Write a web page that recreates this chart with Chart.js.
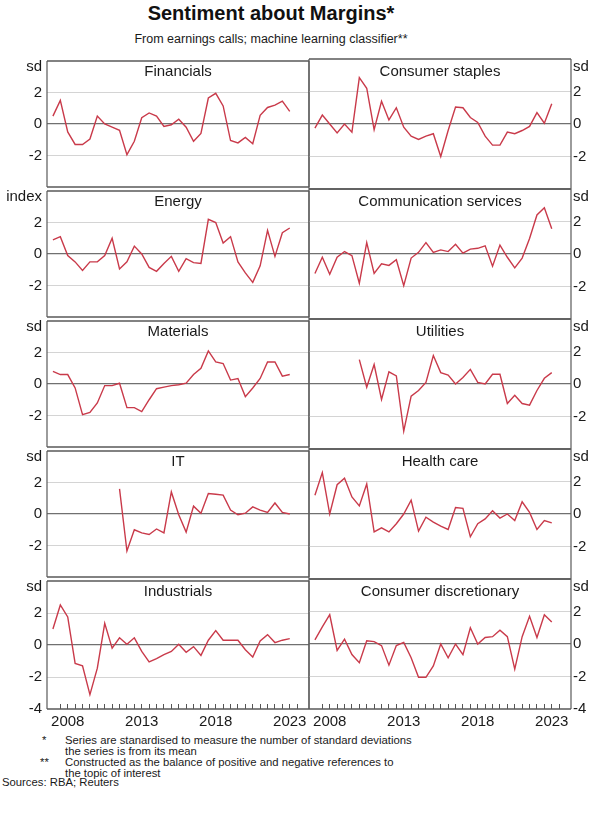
<!DOCTYPE html>
<html>
<head>
<meta charset="utf-8">
<script src="https://cdn.jsdelivr.net/npm/chart.js@4.4.0/dist/chart.umd.min.js"></script>
<style>
  body { margin: 0; background: #fff; font-family: "Liberation Sans", Arial, sans-serif; color: #1a1a1a; }
  #wrap { position: relative; width: 589px; height: 827px; overflow: hidden; background: #fff; }
  #wrap canvas { position: absolute; }
  .t { position: absolute; white-space: nowrap; }
  #title { left: 0; width: 542px; top: 2px; text-align: center; font-weight: bold; font-size: 20px; line-height: 22px; color: #111; }
  #subtitle { left: 0; width: 542px; top: 31px; text-align: center; font-size: 12.5px; line-height: 16px; }
  .ptitle { font-size: 15px; line-height: 18px; text-align: center; width: 262px; }
  .unit { font-size: 15px; line-height: 18px; }
  .note { font-size: 11.3px; line-height: 12px; }
</style>
</head>
<body>
<div id="wrap">
  <div class="t" id="title">Sentiment about Margins*</div>
  <div class="t" id="subtitle">From earnings calls; machine learning classifier**</div>

  <div class="t note" style="left:42px;top:734px">*</div>
  <div class="t note" style="left:65px;top:734px">Series are stanardised to measure the number of standard deviations</div>
  <div class="t note" style="left:65px;top:745px">the series is from its mean</div>
  <div class="t note" style="left:40px;top:756px">**</div>
  <div class="t note" style="left:65px;top:756px">Constructed as the balance of positive and negative references to</div>
  <div class="t note" style="left:65px;top:767px">the topic of interest</div>
  <div class="t note" style="left:2px;top:776px">Sources: RBA; Reuters</div>
</div>
<script>
// half-yearly observations
const periods = [2007, 2007.5, 2008, 2008.5, 2009, 2009.5, 2010, 2010.5, 2011, 2011.5,
  2012, 2012.5, 2013, 2013.5, 2014, 2014.5, 2015, 2015.5, 2016, 2016.5,
  2017, 2017.5, 2018, 2018.5, 2019, 2019.5, 2020, 2020.5, 2021, 2021.5,
  2022, 2022.5, 2023];

const financials = [0.5, 1.5, -0.5, -1.3, -1.3, -0.95, 0.5, 0, -0.2, -0.4,
  -1.95, -1.1, 0.4, 0.7, 0.5, -0.15, -0.05, 0.3, -0.2, -1.1,
  -0.6, 1.65, 1.95, 1.15, -1.05, -1.2, -0.85, -1.25, 0.55, 1.05,
  1.2, 1.45, 0.8];
const consumerStaples = [-0.25, 0.55, 0, -0.55, 0, -0.5, 2.85, 2.2, -0.35, 1.4,
  0.25, 1.0, -0.2, -0.75, -0.95, -0.75, -0.6, -2.0, -0.4, 1.05,
  1.0, 0.4, 0.1, -0.75, -1.3, -1.3, -0.5, -0.6, -0.4, -0.15,
  0.7, 0.05, 1.25];
const energy = [0.9, 1.1, -0.1, -0.5, -1.05, -0.5, -0.5, -0.1, 1.0, -0.95,
  -0.5, 0.5, 0, -0.85, -1.1, -0.6, -0.15, -1.1, -0.3, -0.55,
  -0.6, 2.2, 2.0, 0.7, 1.1, -0.5, -1.2, -1.8, -0.75, 1.5,
  -0.15, 1.35, 1.65];
const communication = [-1.2, -0.2, -1.25, -0.2, 0.15, -0.1, -1.8, 0.7, -1.2, -0.6,
  -0.7, -0.35, -1.95, -0.25, 0.1, 0.7, 0.1, 0.25, 0.15, 0.6,
  0.05, 0.3, 0.35, 0.5, -0.75, 0.55, -0.2, -0.85, -0.25, 0.95,
  2.4, 2.85, 1.55];
const materials = [0.8, 0.6, 0.6, -0.25, -1.95, -1.8, -1.2, -0.1, -0.1, 0.05,
  -1.5, -1.5, -1.75, -1.0, -0.3, -0.2, -0.1, -0.05, 0.05, 0.6,
  1.0, 2.1, 1.4, 1.3, 0.25, 0.35, -0.8, -0.25, 0.35, 1.4,
  1.4, 0.5, 0.6];
const utilities = [null, null, null, null, null, null, 1.5, -0.2, 1.2, -0.95,
  0.75, 0.5, -2.9, -0.75, -0.4, 0.1, 1.75, 0.7, 0.55, 0,
  0.4, 0.9, 0.1, 0, 0.6, 0.6, -1.2, -0.7, -1.2, -1.3,
  -0.4, 0.35, 0.7];
const infoTech = [null, null, null, null, null, null, null, null, null, 1.6,
  -2.35, -1.0, -1.2, -1.3, -0.95, -1.2, 1.4, -0.05, -1.15, 0.5,
  0.05, 1.3, 1.25, 1.2, 0.25, -0.05, 0.05, 0.45, 0.25, 0.1,
  0.7, 0.1, 0];
const healthCare = [1.15, 2.55, 0, 1.8, 2.2, 1.05, 0.5, 1.85, -1.1, -0.85,
  -1.1, -0.6, 0, 0.85, -1.05, -0.2, -0.5, -0.75, -0.95, 0.4,
  0.35, -1.4, -0.6, -0.3, 0.2, -0.25, 0, -0.4, 0.75, 0.1,
  -0.95, -0.4, -0.55];
const industrials = [1.0, 2.5, 1.75, -1.15, -1.3, -3.1, -1.45, 1.35, -0.2, 0.45,
  0.05, 0.45, -0.4, -1.05, -0.85, -0.6, -0.4, 0.05, -0.45, -0.1,
  -0.65, 0.3, 0.9, 0.3, 0.3, 0.3, -0.3, -0.75, 0.25, 0.65,
  0.15, 0.3, 0.4];
const consumerDisc = [0.25, 1.05, 1.8, -0.4, 0.3, -0.65, -1.15, 0.2, 0.15, -0.1,
  -1.3, -0.1, 0.1, -0.85, -2.05, -2.05, -1.35, 0, -0.85, 0,
  -0.65, 1.0, 0, 0.4, 0.45, 0.85, 0.45, -1.55, 0.45, 1.7,
  0.4, 1.8, 1.35];

const xTickLabels = [2008, 2013, 2018, 2023];
const yTicks = [-4, -2, 0, 2, 4];

const panels = [
  { name: 'Financials', data: financials, unit: 'sd' },
  { name: 'Consumer staples', data: consumerStaples, unit: 'sd' },
  { name: 'Energy', data: energy, unit: 'index' },
  { name: 'Communication services', data: communication, unit: 'sd' },
  { name: 'Materials', data: materials, unit: 'sd' },
  { name: 'Utilities', data: utilities, unit: 'sd' },
  { name: 'IT', data: infoTech, unit: 'sd' },
  { name: 'Health care', data: healthCare, unit: 'sd' },
  { name: 'Industrials', data: industrials, unit: 'sd' },
  { name: 'Consumer discretionary', data: consumerDisc, unit: 'sd' }
];

const RED = '#c93a4a';
const TOP0 = 59, PH = 130, X_MIN = 2006.6, X_MAX = 2024.3;
const wrap = document.getElementById('wrap');

// tick marks every half year along the bottom axis
const xTickMarks = [];
for (let v = 2007.5; v <= 2023.5; v += 0.5) xTickMarks.push(v);

Chart.defaults.font.family = '"Liberation Sans", Arial, sans-serif';
Chart.defaults.font.size = 15;
Chart.defaults.color = '#1a1a1a';

const frame = {
  id: 'frame',
  afterDraw(chart) {
    const { ctx, chartArea: a } = chart;
    ctx.save();
    ctx.strokeStyle = '#5a5a5a';
    ctx.lineWidth = 1.5;
    ctx.beginPath();
    ctx.moveTo(a.left, a.top); ctx.lineTo(a.right, a.top);
    ctx.moveTo(a.left, a.bottom); ctx.lineTo(a.right, a.bottom);
    ctx.stroke();
    ctx.lineWidth = 1.2;
    ctx.beginPath();
    ctx.moveTo(a.left, a.top); ctx.lineTo(a.left, a.bottom);
    ctx.moveTo(a.right, a.top); ctx.lineTo(a.right, a.bottom);
    ctx.stroke();
    ctx.restore();
  }
};

function addText(cls, txt, css) {
  const d = document.createElement('div');
  d.className = 't ' + cls;
  d.textContent = txt;
  Object.assign(d.style, css);
  wrap.appendChild(d);
}

panels.forEach((p, k) => {
  const col = k % 2, row = Math.floor(k / 2);
  const last = row === 4;
  const top = TOP0 + row * PH;
  const cv = document.createElement('canvas');
  cv.width = col === 0 ? 311 : 282;
  cv.height = 12 + PH + (last ? 30 : 12);
  cv.style.left = (col === 0 ? 0 : 307) + 'px';
  cv.style.top = (top - 12) + 'px';
  wrap.appendChild(cv);

  const pts = periods.map((x, i) => ({ x: x, y: p.data[i] })).filter(d => d.y !== null);

  new Chart(cv, {
    type: 'line',
    data: { datasets: [{ data: pts, borderColor: RED, borderWidth: 1.4, pointRadius: 0, tension: 0 }] },
    options: {
      responsive: false, animation: false, events: [],
      layout: { padding: { top: 12, bottom: last ? 0 : 12, left: col === 0 ? 0 : 2, right: col === 0 ? 2 : 0 } },
      plugins: { legend: { display: false }, tooltip: { enabled: false } },
      scales: {
        x: {
          type: 'linear', min: X_MIN, max: X_MAX, display: last,
          afterBuildTicks: s => { s.ticks = xTickMarks.map(v => ({ value: v })); },
          afterFit: s => { if (last) s.height = 30; },
          grid: { drawOnChartArea: false, drawTicks: true, tickLength: -5, tickColor: '#555', tickWidth: 1 },
          border: { display: false },
          ticks: { autoSkip: false, maxRotation: 0, padding: 9,
            callback: v => xTickLabels.includes(v) ? String(v) : '' }
        },
        y: {
          min: -4, max: 4, position: col === 0 ? 'left' : 'right',
          afterBuildTicks: s => { s.ticks = yTicks.map(v => ({ value: v })); },
          afterFit: s => { s.width = col === 0 ? 47 : 18; },
          border: { display: false },
          grid: {
            drawTicks: false,
            color: c => c.tick.value === 0 ? '#707070' : (Math.abs(c.tick.value) === 4 ? 'rgba(0,0,0,0)' : '#d4d4d4'),
            lineWidth: c => c.tick.value === 0 ? 1.3 : 1
          },
          ticks: { padding: col === 0 ? 5 : 2,
            callback: v => (v === 4 || (v === -4 && !last)) ? '' : String(v) }
        }
      }
    },
    plugins: [frame]
  });

  const px = col === 0 ? 47 : 309;
  addText('ptitle', p.name, { left: px + 'px', top: (top + 3) + 'px' });
  if (col === 0) {
    addText('unit', p.unit, { left: '0px', width: '42px', textAlign: 'right', top: (top - 2) + 'px' });
  } else {
    addText('unit', p.unit, { left: '573px', top: (top - 2) + 'px' });
  }
});
</script>
</body>
</html>
